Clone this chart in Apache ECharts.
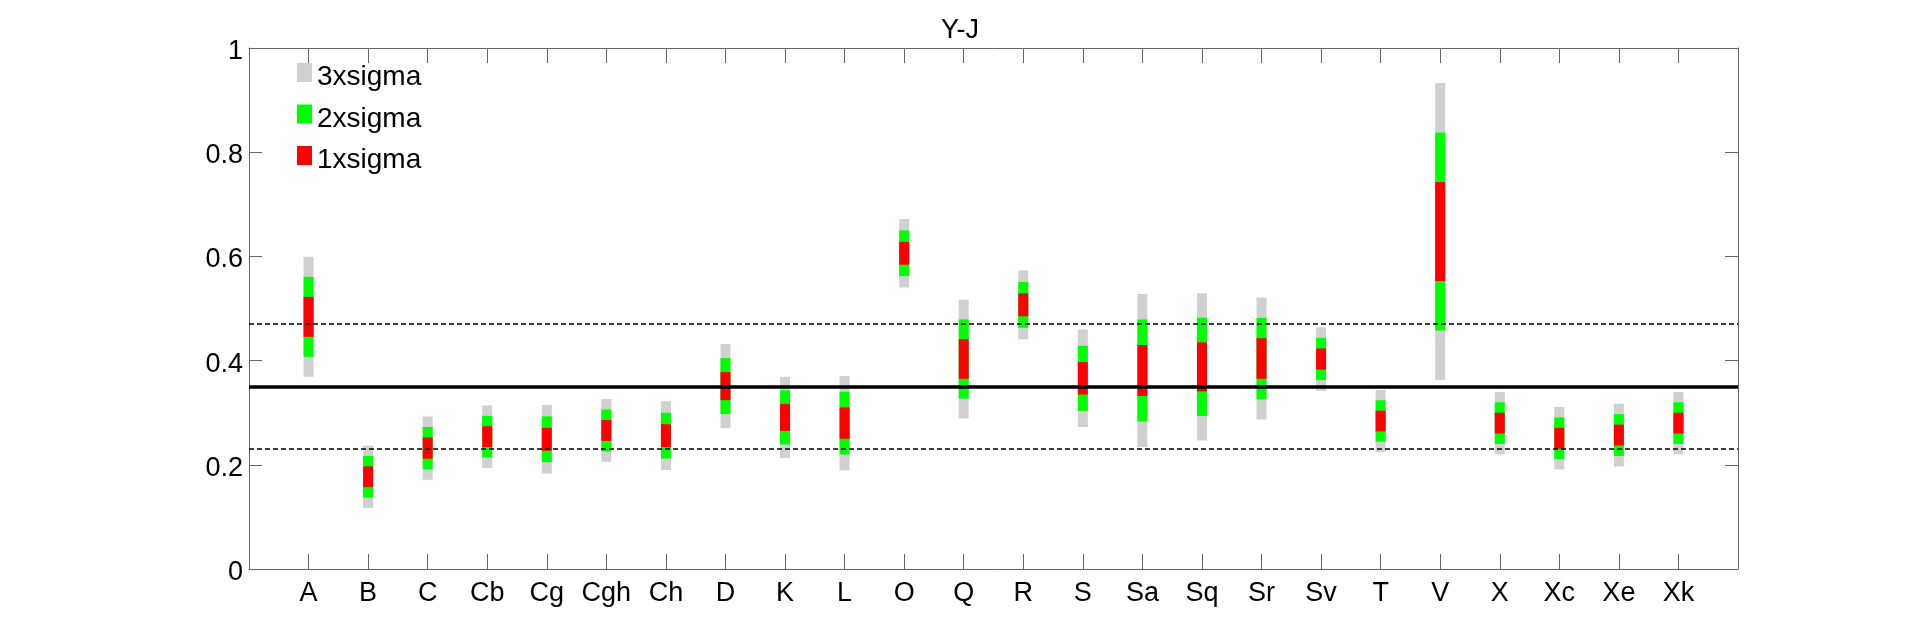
<!DOCTYPE html>
<html>
<head>
<meta charset="utf-8">
<script src="https://cdn.jsdelivr.net/npm/echarts@6/dist/echarts.min.js"></script>
<style>
  html, body { margin: 0; padding: 0; background: #fff; }
  #chart { width: 1920px; height: 641px; }
</style>
</head>
<body>
<div id="chart"></div>
<script>
// ---- data ----
const categories = ['A','B','C','Cb','Cg','Cgh','Ch','D','K','L','O','Q','R','S','Sa','Sq','Sr','Sv','T','V','X','Xc','Xe','Xk'];
const means  = [0.484,0.177,0.232,0.254,0.249,0.266,0.256,0.351,0.291,0.280,0.606,0.403,0.507,0.366,0.381,0.388,0.404,0.403,0.284,0.648,0.280,0.251,0.257,0.280];
const sigmas = [0.0384,0.0200,0.0203,0.0200,0.0220,0.0201,0.0220,0.0269,0.0260,0.0301,0.0219,0.0380,0.0220,0.0312,0.0490,0.0471,0.0390,0.0203,0.0199,0.0950,0.0200,0.0200,0.0201,0.0200];
const overallMean = 0.346;
const bandUpper = 0.465;
const bandLower = 0.226;
const yTicks = [0, 0.2, 0.4, 0.6, 0.8, 1];
const levels = [
  { name: '3xsigma', k: 3, color: '#d0d0d0' },
  { name: '2xsigma', k: 2, color: '#00ff00' },
  { name: '1xsigma', k: 1, color: '#ff0000' }
];

const FONT = 'Liberation Sans, Arial, Helvetica, sans-serif';
const FS = 27;
const FS_LEGEND = 28;
const chart = echarts.init(document.getElementById('chart'), null, { renderer: 'canvas' });

function renderBar(params, api) {
  const x = api.value(0);
  const lo = api.coord([x, api.value(1)]);
  const hi = api.coord([x, api.value(2)]);
  const w = 10;
  return {
    type: 'rect',
    shape: { x: lo[0] - w / 2, y: hi[1], width: w, height: lo[1] - hi[1] },
    style: { fill: api.visual('color') }
  };
}

const series = levels.map(lv => ({
  name: lv.name,
  type: 'custom',
  renderItem: renderBar,
  itemStyle: { color: lv.color },
  encode: { x: 0, y: [1, 2] },
  data: means.map((m, i) => [i + 1, m - lv.k * sigmas[i], m + lv.k * sigmas[i]]),
  z: 2
}));

series.push({
  name: 'ref',
  type: 'line',
  data: [],
  silent: true,
  markLine: {
    silent: true,
    symbol: ['none', 'none'],
    label: { show: false },
    animation: false,
    data: [
      { yAxis: overallMean, lineStyle: { color: '#000', width: 3.5, type: 'solid' } },
      { yAxis: bandUpper, lineStyle: { color: '#000', width: 1.5, type: [5, 3] } },
      { yAxis: bandLower, lineStyle: { color: '#000', width: 1.5, type: [5, 3] } }
    ]
  },
  z: 3
});

const axisLineStyle = { show: true, onZero: false, lineStyle: { color: '#666', width: 1 } };
const tickStyle = { lineStyle: { color: '#666', width: 1 } };

const option = {
  animation: false,
  backgroundColor: '#fff',
  title: {
    text: 'Y-J',
    left: 'center',
    top: 12,
    textStyle: { fontFamily: FONT, fontSize: FS, fontWeight: 'normal', color: '#000' }
  },
  legend: {
    orient: 'vertical',
    left: 292,
    top: 58,
    itemWidth: 15,
    itemHeight: 19,
    itemGap: 13,
    icon: 'rect',
    selectedMode: false,
    data: levels.map(l => l.name),
    formatter: name => '{t|' + name + '}',
    textStyle: {
      fontFamily: FONT, fontSize: FS_LEGEND, color: '#000',
      rich: { t: { fontFamily: FONT, fontSize: FS_LEGEND, color: '#000', padding: [10, 0, 0, 0] } }
    }
  },
  grid: { left: 249, right: 182, top: 48, bottom: 72, containLabel: false },
  xAxis: [
    {
      type: 'value', min: 0, max: 25, interval: 1,
      axisLine: axisLineStyle,
      axisTick: Object.assign({ inside: true, length: 15 }, tickStyle),
      splitLine: { show: false },
      axisLabel: {
        fontFamily: FONT, fontSize: FS, color: '#000', margin: 11,
        formatter: v => (v >= 1 && v <= categories.length) ? categories[v - 1] : ''
      }
    },
    {
      type: 'value', min: 0, max: 25, interval: 1, position: 'top',
      axisLine: axisLineStyle,
      axisTick: Object.assign({ inside: true, length: 15 }, tickStyle),
      splitLine: { show: false },
      axisLabel: { show: false }
    }
  ],
  yAxis: [
    {
      type: 'value', min: 0, max: 1, interval: 0.2,
      axisLine: axisLineStyle,
      axisTick: Object.assign({ inside: true, length: 13 }, tickStyle),
      splitLine: { show: false },
      axisLabel: {
        fontFamily: FONT, fontSize: FS, color: '#000', margin: 6,
        formatter: v => { const t = yTicks.find(tt => Math.abs(tt - v) < 1e-9); return t === undefined ? '' : '{t|' + String(t) + '}'; },
        rich: { t: { fontFamily: FONT, fontSize: FS, color: '#000', padding: [7, 0, 0, 0] } }
      }
    },
    {
      type: 'value', min: 0, max: 1, interval: 0.2, position: 'right',
      axisLine: axisLineStyle,
      axisTick: Object.assign({ inside: true, length: 13 }, tickStyle),
      splitLine: { show: false },
      axisLabel: { show: false }
    }
  ],
  series: series
};

chart.setOption(option);
</script>
</body>
</html>
